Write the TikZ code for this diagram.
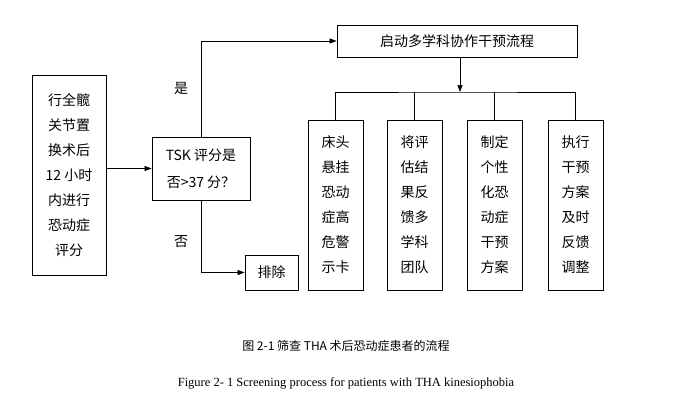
\documentclass[tikz,border=0pt]{standalone}
\usepackage{fontspec}
\setmainfont{Liberation Serif}
\newfontfamily\cjk{Noto Sans CJK SC}
\usetikzlibrary{arrows.meta}
\begin{document}
\begin{tikzpicture}[x=1pt,y=-1pt,
  box/.style={draw,line width=0.8pt,inner sep=0pt},
  txt/.style={font=\cjk\fontsize{14}{25}\selectfont,align=center},
  arr/.style={-{Triangle[length=7pt,width=5pt]},line width=0.7pt},
  ln/.style={line width=0.7pt}]
\useasboundingbox[fill=white] (0,0) rectangle (690,405);
\node[box,minimum width=74pt,minimum height=200pt,txt] (a) at (69,175) {行全髋\\关节置\\换术后\\12 小时\\内进行\\恐动症\\评分};
\node[box,minimum width=98pt,minimum height=63pt,txt,font=\cjk\fontsize{14}{27}\selectfont] (t) at (201,168.5) {TSK 评分是\\否>37 分？};
\node[box,minimum width=240pt,minimum height=32pt,txt] (s) at (457,41) {启动多学科协作干预流程};
\node[box,minimum width=53pt,minimum height=35pt,txt] (e) at (271.5,272.5) {排除};
\node[box,minimum width=55pt,minimum height=170pt,txt] (b1) at (335.5,205) {床头\\悬挂\\恐动\\症高\\危警\\示卡};
\node[box,minimum width=55pt,minimum height=170pt,txt] (b2) at (414.5,205) {将评\\估结\\果反\\馈多\\学科\\团队};
\node[box,minimum width=55pt,minimum height=170pt,txt] (b3) at (494.5,205) {制定\\个性\\化恐\\动症\\干预\\方案};
\node[box,minimum width=55pt,minimum height=170pt,txt] (b4) at (575.5,205) {执行\\干预\\方案\\及时\\反馈\\调整};
\node[txt] (yes) at (181,88) {是};
\node[txt] (no) at (181,242) {否};
\coordinate (bar) at (460,92);
\draw[arr] (a.east |- t.west) -- (t.west);
\draw[arr] (t.north) |- (s.west);
\draw[arr] (t.south) |- (e.west);
\draw[arr] (s.south -| bar) -- (bar);
\draw[ln] (b1.north) |- (bar) -| (b4.north);
\draw[ln] (b2.north) -- (b2.north |- bar);
\draw[ln] (b3.north) -- (b3.north |- bar);
\node[font=\cjk\fontsize{12}{14}\selectfont] (cap1) at (346,346) {图 2-1 筛查 THA 术后恐动症患者的流程};
\node[font=\fontsize{12.5}{14}\selectfont] (cap2) at (346,383) {Figure 2- 1 Screening process for patients with THA kinesiophobia};
\end{tikzpicture}
\end{document}
